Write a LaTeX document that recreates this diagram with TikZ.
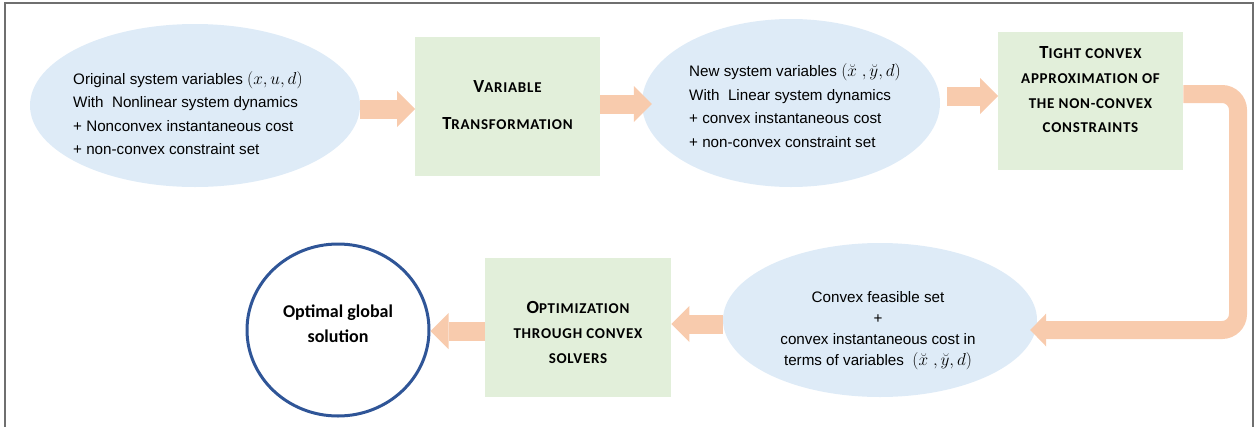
\documentclass[tikz,border=0pt]{standalone}
\usepackage{fontspec}
\setmainfont{Liberation Sans}
\newfontfamily\carlitofont{Carlito}
\newfontfamily\carlitosc{Carlito}[LetterSpace=5]
\usetikzlibrary{shapes.geometric,arrows.meta,calc}
\definecolor{ellblue}{HTML}{DEEBF7}
\definecolor{boxgreen}{HTML}{E2EFDA}
\definecolor{arrowor}{HTML}{F8CBAD}
\definecolor{circblue}{HTML}{2F5597}
\definecolor{framec}{HTML}{6F6F6F}
\newcommand{\capL}[1]{{\fontsize{18.5}{20}\selectfont #1}}
\newcommand{\bigmath}[1]{{\fontsize{17.5}{20}\selectfont $#1$}}
\begin{document}
\begin{tikzpicture}[x=1pt,y=-1pt,
  ell/.style={ellipse, fill=ellblue, inner sep=0pt, draw=none},
  boxs/.style={rectangle, fill=boxgreen, inner sep=0pt, anchor=north west},
  etxt/.style={font=\fontsize{15.2}{23.5}\selectfont, inner sep=0pt, align=left, anchor=north west},
  btxt/.style={font=\carlitosc\bfseries\fontsize{15}{24.7}\selectfont, inner sep=0pt, align=center, anchor=north},
  blk/.style={line width=19pt, draw=arrowor, -{Triangle[length=18pt 0, width=36pt 0, line width=0pt]}},
  lblk/.style={line width=18pt, draw=arrowor, rounded corners=16pt, -{Triangle[length=16pt 0, width=33pt 0, line width=0pt]}}
]
\useasboundingbox (0,0) rectangle (1259,426);
\draw[framec, line width=2pt] (5,427) -- (5,3) -- (1253,3) -- (1253,427);

% shapes
\node[ell, minimum width=330pt, minimum height=163pt] (e1) at (195,105.5) {};
\node[ell, minimum width=298pt, minimum height=168pt] (e2) at (791,103) {};
\node[ell, minimum width=314pt, minimum height=154pt] (e3) at (880,320) {};
\node[boxs, minimum width=185pt, minimum height=139pt] (b1) at (415,37) {};
\node[boxs, minimum width=185pt, minimum height=138pt] (b2) at (998,32) {};
\node[boxs, minimum width=186pt, minimum height=139pt] (b3) at (485,258) {};
\node[ellipse, draw=circblue, line width=3pt, fill=white, minimum width=182pt, minimum height=172pt, inner sep=0pt] (c) at (338,330) {};

% connectors
\draw[blk] (e1.east |- 0,109) -- (b1.west |- 0,109);
\draw[blk] (b1.east |- 0,104) -- ($(e2.west |- 0,104)+(10,0)$);
\draw[blk] ($(e2.east)+(7,-7)$) -- (b2.west |- 0,96);
\coordinate (k1) at (1238,94);
\coordinate (k2) at (1238,330);
\draw[lblk] (b2.east |- k1) -- (k1) -- (k2) -- ($(e3.east |- k2)+(-7,0)$);
\draw[blk] (e3.west |- 0,324) -- (b3.east |- 0,324);
\draw[blk] (b3.west |- 0,331) -- (c.east |- 0,331);

% texts
\node[etxt] (t1) at (73,71) {Original system variables \bigmath{(x,u,d)}\\With\ \ Nonlinear system dynamics\\+ Nonconvex instantaneous cost\\+ non-convex constraint set};
\node[etxt] (t2) at (689,63.5) {New system variables \bigmath{(\breve{x}\ ,\breve{y},d)}\\With\ \ Linear system dynamics\\+ convex instantaneous cost\\+ non-convex constraint set};
\node[etxt, align=center, anchor=north, font=\fontsize{15.2}{21}\selectfont] (t3) at (878,291) {Convex feasible set\\+\\convex instantaneous cost in\\terms of variables\ \ \bigmath{(\breve{x}\ ,\breve{y},d)}};
\node[btxt, font=\carlitosc\bfseries\fontsize{15}{37}\selectfont] (bt1) at (507.5,80.5) {\capL{V}ARIABLE\\\capL{T}RANSFORMATION};
\node[btxt] (bt2) at (1090.5,46.5) {\capL{T}IGHT CONVEX\\APPROXIMATION OF\\THE NON-CONVEX\\CONSTRAINTS};
\node[btxt] (bt3) at (578,301.5) {\capL{O}PTIMIZATION\\THROUGH CONVEX\\SOLVERS};
\node[font=\carlitofont\bfseries\fontsize{18}{25}\selectfont, align=center, anchor=north, inner sep=0pt] (ct) at (338,305) {Optimal global\\solution};
\end{tikzpicture}
\end{document}
